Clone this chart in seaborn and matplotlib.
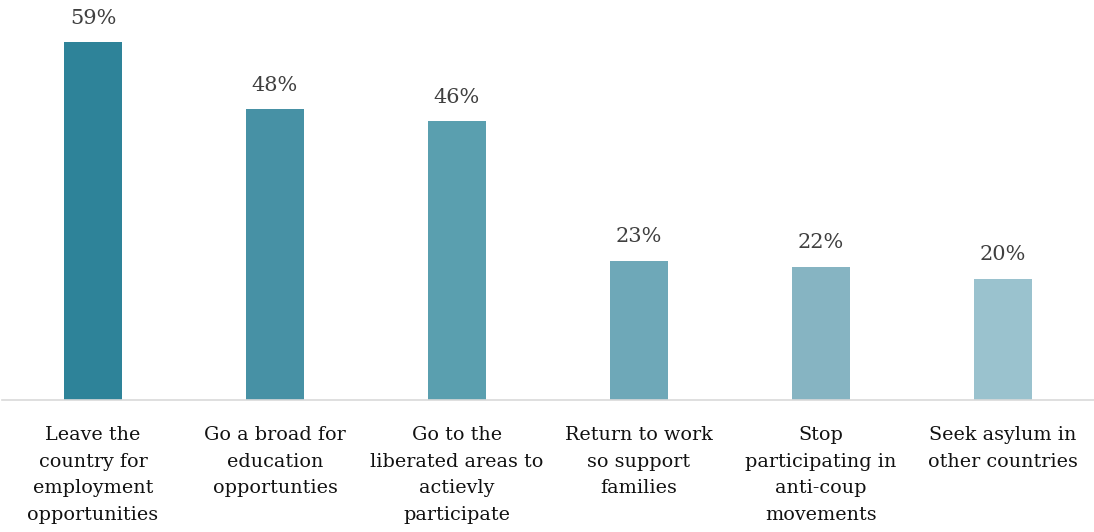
import matplotlib
matplotlib.use("Agg")
import matplotlib.pyplot as plt
import seaborn as sns
import pandas as pd

categories = [
    "Leave the\ncountry for\nemployment\nopportunities",
    "Go a broad for\neducation\nopportunties",
    "Go to the\nliberated areas to\nactievly\nparticipate",
    "Return to work\nso support\nfamilies",
    "Stop\nparticipating in\nanti-coup\nmovements",
    "Seek asylum in\nother countries",
]
values = [59, 48, 46, 23, 22, 20]
colors = ["#2E8399", "#4791A5", "#5A9FAF", "#6EA8B8", "#86B4C2", "#9AC2CE"]

sns.set_theme(style="white")
plt.rcParams["font.family"] = ["DejaVu Serif"]

df = pd.DataFrame({"category": categories, "value": values})

fig = plt.figure(figsize=(10.94, 5.32), dpi=100)
ax = fig.add_axes([2 / 1094, 132 / 532, 1092 / 1094, 400 / 532])

sns.barplot(data=df, x="category", y="value", hue="category", palette=colors,
            legend=False, width=0.32, ax=ax, saturation=1, linewidth=0)

for i, v in enumerate(values):
    ax.text(i, v + 2.4, f"{v}%", ha="center", va="bottom",
            fontsize=15, color="#404040")

ax.set_xlim(-0.5, 5.5)
ax.set_ylim(0, 66)
ax.set_xlabel("")
ax.set_ylabel("")
ax.set_yticks([])
ax.tick_params(axis="x", length=0, pad=19, labelsize=13.8, labelcolor="#111111")
for lbl in ax.get_xticklabels():
    lbl.set_linespacing(1.6)
    lbl.set_va("top")
for side in ["top", "right", "left"]:
    ax.spines[side].set_visible(False)
ax.spines["bottom"].set_color("#d9d9d9")
ax.spines["bottom"].set_linewidth(1.2)

fig.savefig("out.png", dpi=100)
